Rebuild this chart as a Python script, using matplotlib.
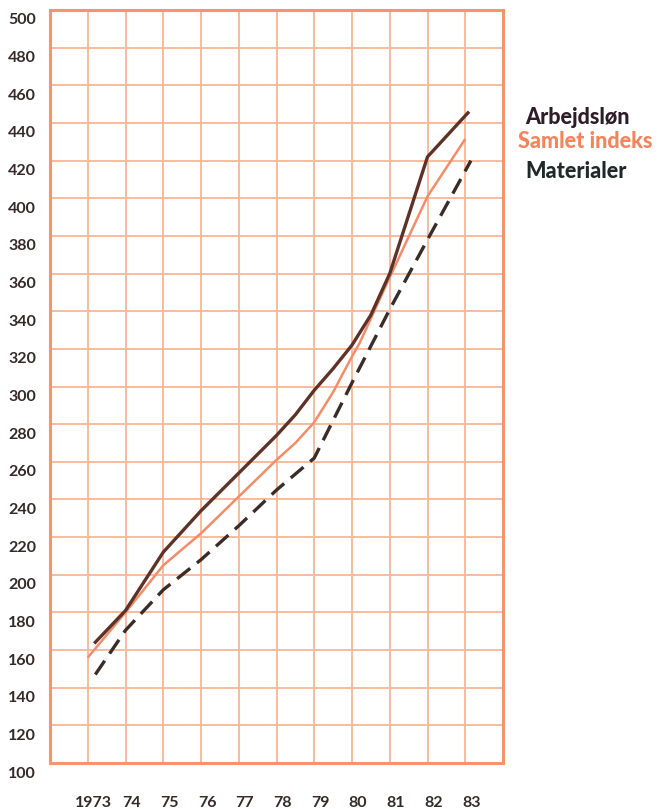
import matplotlib
matplotlib.use("Agg")
import matplotlib.pyplot as plt
from matplotlib.transforms import ScaledTranslation

# index values
arb_years = [1973.17, 1974, 1975, 1976, 1977, 1978, 1978.5, 1979, 1979.5, 1980, 1980.5, 1981, 1982, 1983.1]
arb_vals = [163.5, 181, 212, 234, 254, 274, 285, 298, 309.5, 322, 338, 360, 422, 446]

sam_years = [1973.0, 1974, 1975, 1976, 1977, 1978, 1978.5, 1979, 1979.5, 1980, 1980.2, 1981, 1982, 1983]
sam_vals = [156, 180, 205, 222, 241.5, 261, 270, 281, 297, 316, 323, 358, 401, 431.5]

mat_years = [1973.2, 1974, 1975, 1976, 1977, 1978, 1979, 1980, 1981, 1982, 1983.15]
mat_vals = [147, 170.5, 192, 208, 226, 245, 262, 302, 341, 378, 420]

years = list(range(1973, 1984))
year_labels = ["1973", "74", "75", "76", "77", "78", "79", "80", "81", "82", "83"]
y_ticks = list(range(100, 501, 20))

legend_names = ["Arbejdsløn", "Samlet indeks", "Materialer"]

grid_col = "#f9bb9c"
frame_col = "#f7946c"
text_col = "#352a28"

fig = plt.figure(figsize=(6.59, 8.09), dpi=100)
ax = fig.add_axes([50 / 659, 46 / 809, 453 / 659, 753 / 809])

ax.set_xlim(1972, 1984)
ax.set_ylim(100, 500)
ax.set_xticks(years)
ax.set_xticklabels(year_labels)
ax.set_yticks(y_ticks)
ax.set_yticklabels([str(v) for v in y_ticks])

for x in years:
    ax.axvline(x, color=grid_col, lw=1.4, zorder=1)
for y in y_ticks[1:-1]:
    ax.axhline(y, color=grid_col, lw=1.4, zorder=1)

for s in ax.spines.values():
    s.set_color(frame_col)
    s.set_linewidth(2.2)

ax.tick_params(length=0, labelsize=11.5, colors=text_col)
ax.tick_params(axis="y", pad=10)
ax.tick_params(axis="x", pad=24)
for lab in ax.get_yticklabels():
    lab.set_fontfamily("Lato")
    lab.set_fontweight("bold")
    lab.set_transform(lab.get_transform() + ScaledTranslation(0, -9 / 100, fig.dpi_scale_trans))
for lab in ax.get_xticklabels():
    lab.set_fontfamily("Lato")
    lab.set_fontweight("bold")
    lab.set_transform(lab.get_transform() + ScaledTranslation(6 / 100, 0, fig.dpi_scale_trans))

ax.plot(sam_years, sam_vals, color="#f58c68", lw=1.8, zorder=3, solid_capstyle="butt")
ax.plot(arb_years, arb_vals, color="#5e3226", lw=2.4, zorder=4, solid_capstyle="butt")
ax.plot(mat_years, mat_vals, color="#3a2c26", lw=2.4, zorder=4,
        linestyle=(0, (5, 2.6)), dash_capstyle="butt")

leg_cols = ["#2e1c26", "#f5845a", "#1f2a28"]
leg_y = [117, 142, 171]
leg_x = [525, 518, 525]
for name, c, xp, yp in zip(legend_names, leg_cols, leg_x, leg_y):
    fig.text(xp / 659, 1 - yp / 809, name, color=c, fontsize=15.5,
             fontfamily="Lato", fontweight="black", ha="left", va="center")

fig.savefig("out.png", dpi=100)
